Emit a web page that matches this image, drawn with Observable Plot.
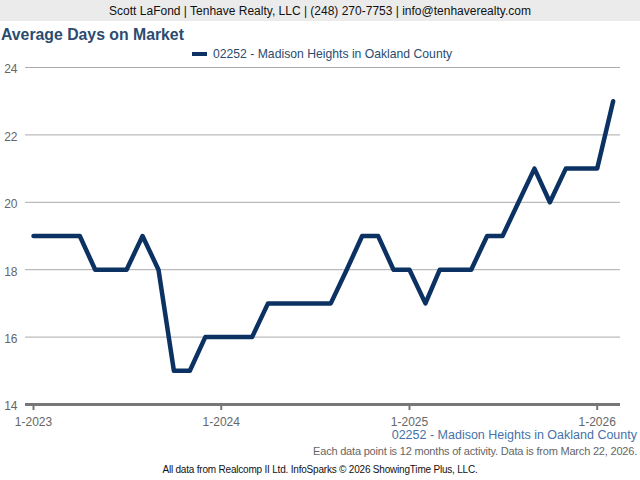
<!DOCTYPE html>
<html>
<head>
<meta charset="utf-8">
<script src="https://cdn.jsdelivr.net/npm/d3@7"></script>
<script src="https://cdn.jsdelivr.net/npm/@observablehq/plot@0.6"></script>
<style>
  html, body { margin: 0; padding: 0; background: #fff; }
  body { width: 640px; height: 480px; position: relative; overflow: hidden; font-family: "Liberation Sans", Arial, sans-serif; }
  .abs { position: absolute; white-space: nowrap; }
  #banner { left: 0; top: 0; width: 640px; height: 21px; background: #ebebeb; color: #111; font-size: 12px; line-height: 22px; text-align: center; }
  #title { left: 1px; top: 26px; font-size: 15.8px; font-weight: bold; color: #2b4b70; }
  #legend { left: 192px; top: 47px; font-size: 12.2px; color: #2b4b70; display: flex; align-items: center; }
  #legend .sw { width: 15px; height: 4px; background: #0b3263; margin-right: 6px; }
  #chart { left: 0; top: 60px; }
  #sub1 { right: 3px; top: 428px; font-size: 12.5px; color: #4672a8; }
  #sub2 { right: 3px; top: 445px; font-size: 11px; color: #666; letter-spacing: -0.2px; }
  #sub3 { left: 0; width: 640px; text-align: center; top: 464px; font-size: 10px; color: #111; letter-spacing: -0.2px; }
</style>
</head>
<body>
<div id="banner" class="abs">Scott LaFond | Tenhave Realty, LLC | (248) 270-7753 | info@tenhaverealty.com</div>
<div id="title" class="abs">Average Days on Market</div>
<div id="legend" class="abs"><span class="sw"></span><span id="legendText"></span></div>
<div id="chart" class="abs"></div>
<div id="sub1" class="abs"></div>
<div id="sub2" class="abs">Each data point is 12 months of activity. Data is from March 22, 2026.</div>
<div id="sub3" class="abs">All data from Realcomp II Ltd. InfoSparks © 2026 ShowingTime Plus, LLC.</div>
<script>
const seriesName = "02252 - Madison Heights in Oakland County";
const months = [
  "2023-01","2023-02","2023-03","2023-04","2023-05","2023-06","2023-07","2023-08","2023-09","2023-10","2023-11","2023-12",
  "2024-01","2024-02","2024-03","2024-04","2024-05","2024-06","2024-07","2024-08","2024-09","2024-10","2024-11","2024-12",
  "2025-01","2025-02","2025-03","2025-04","2025-05","2025-06","2025-07","2025-08","2025-09","2025-10","2025-11","2025-12",
  "2026-01","2026-02"
];
const daysOnMarket = [
  19,19,19,19,18,18,18,19,18,15,15,16,
  16,16,16,17,17,17,17,17,18,19,19,18,
  18,17,18,18,18,19,19,20,21,20,21,21,
  21,23
];
const xTicks = ["2023-01","2024-01","2025-01","2026-01"];
const yTicks = [14,16,18,20,22,24];

document.getElementById("legendText").textContent = seriesName;
document.getElementById("sub1").textContent = seriesName;

const data = months.map((m, i) => ({date: new Date(m + "-01T00:00:00Z"), value: daysOnMarket[i]}));
const tickDates = xTicks.map(m => new Date(m + "-01T00:00:00Z"));

const chart = Plot.plot({
  width: 640,
  height: 375,
  marginTop: 7,
  marginBottom: 31,
  marginLeft: 25,
  marginRight: 20,
  style: {fontFamily: "'Liberation Sans', Arial, sans-serif", fontSize: "12px", background: "transparent"},
  x: {type: "utc", domain: [tickDates[0], tickDates[3]], range: [33, 596.7]},
  y: {domain: [14, 24]},
  marks: [
    Plot.gridY(yTicks, {stroke: "#aaa", strokeOpacity: 1, strokeWidth: 1}),
    Plot.axisY(yTicks, {tickSize: 0, tickPadding: 8, dy: 2, textAnchor: "end", fill: "#666", fontSize: 12, label: null}),
    Plot.ruleY([14], {stroke: "#777", strokeWidth: 3}),
    Plot.axisX(tickDates, {tickSize: 6, stroke: "#777", strokeWidth: 2, tickPadding: 7, fill: "#666", fontSize: 12, label: null,
      tickFormat: d => `${d.getUTCMonth() + 1}-${d.getUTCFullYear()}`}),
    Plot.lineY(data, {x: "date", y: "value", stroke: "#0b3263", strokeWidth: 4.5, strokeLinejoin: "round", strokeLinecap: "round"})
  ]
});
document.getElementById("chart").appendChild(chart);
</script>
</body>
</html>
